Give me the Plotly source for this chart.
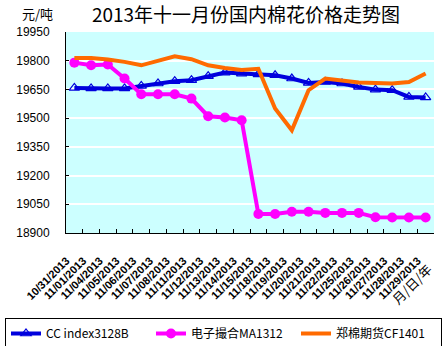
import plotly.graph_objects as go

dates = ["10/31/2013", "11/01/2013", "11/04/2013", "11/05/2013", "11/06/2013",
         "11/07/2013", "11/08/2013", "11/11/2013", "11/12/2013", "11/13/2013",
         "11/14/2013", "11/15/2013", "11/18/2013", "11/19/2013", "11/20/2013",
         "11/21/2013", "11/22/2013", "11/25/2013", "11/26/2013", "11/27/2013",
         "11/28/2013", "11/29/2013"]

cc_index = [19658, 19655, 19655, 19655, 19668, 19681, 19693, 19698, 19719, 19738,
            19733, 19729, 19724, 19707, 19684, 19689, 19681, 19663, 19649, 19646,
            19611, 19608]

ma1312 = [19790, 19776, 19780, 19707, 19625, 19625, 19625, 19602, 19510, 19503,
          19489, 18999, 18999, 19011, 19011, 19005, 19005, 19005, 18982, 18981,
          18981, 18981]

cf1401 = [19814, 19814, 19806, 19794, 19776, 19802, 19823, 19808, 19776, 19762,
          19752, 19758, 19550, 19437, 19646, 19707, 19698, 19686, 19684, 19681,
          19689, 19733]

y_ticks = [18900, 19050, 19200, 19350, 19500, 19650, 19800, 19950]

PL, PR, PT, PB = 66, 434, 32, 233  # plot area in pixels
PW, PH = PR - PL, PB - PT

fig = go.Figure()
# invisible helper trace so the overlay axis (boundary tick marks) is drawn
fig.add_trace(go.Scatter(
    x=dates, y=cc_index, xaxis="x2", yaxis="y", mode="lines", opacity=0,
    showlegend=False, hoverinfo="skip",
))
fig.add_trace(go.Scatter(
    x=dates, y=cc_index, name="CC index3128B", mode="lines+markers",
    line=dict(color="#0000DD", width=4),
    marker=dict(symbol="triangle-up-open", size=9, color="#0000DD",
                line=dict(width=1.2, color="#0000DD")),
))
fig.add_trace(go.Scatter(
    x=dates, y=ma1312, name="电子撮合MA1312", mode="lines+markers",
    line=dict(color="#FF00FF", width=4),
    marker=dict(symbol="circle", size=10, color="#FF00FF"),
))
fig.add_trace(go.Scatter(
    x=dates, y=cf1401, name="郑棉期货CF1401", mode="lines",
    line=dict(color="#FF6A00", width=4),
))

fig.update_layout(
    width=443, height=346,
    margin=dict(l=PL, r=443 - PR, t=PT, b=346 - PB, autoexpand=False),
    paper_bgcolor="white",
    plot_bgcolor="#CCFFFF",
    font=dict(family="Noto Sans CJK SC, Arial, sans-serif", color="black"),
    title=dict(text="2013年十一月份国内棉花价格走势图", x=246 / 443, xanchor="center",
               y=1 - 15 / 346, yanchor="middle",
               font=dict(size=19, family="Noto Sans CJK SC", color="black")),
    showlegend=True,
    legend=dict(orientation="h", xref="paper", yref="paper",
                x=(5 - PL) / PW, y=-(318 - PB) / PH, xanchor="left", yanchor="top",
                bordercolor="black", borderwidth=1, bgcolor="white",
                font=dict(size=12, family="Noto Sans CJK SC", color="black"),
                itemwidth=30, entrywidth=100, entrywidthmode="pixels",
                tracegroupgap=0),
    xaxis=dict(
        type="category", tickangle=-45, showgrid=False,
        showline=True, linecolor="black", linewidth=1,
        ticks="outside", ticklen=16, tickcolor="rgba(0,0,0,0)",
        tickfont=dict(size=11, family="Arial", color="black", weight="bold"),
        ticklabelshift=-8,
        range=[-0.5, len(dates) - 0.5],
    ),
    xaxis2=dict(
        type="category", overlaying="x", side="bottom", matches="x",
        showgrid=False, showline=False, showticklabels=False,
        ticks="inside", ticklen=4, tickcolor="black", tickson="boundaries",
        range=[-0.5, len(dates) - 0.5],
    ),
    yaxis=dict(
        range=[18900, 19950], tickvals=y_ticks, tickformat="d",
        showgrid=True, gridcolor="white", gridwidth=2,
        showline=True, linecolor="black", linewidth=1,
        ticks="inside", ticklen=3, tickcolor="black",
        tickfont=dict(size=12, family="Arial", color="black"),
        ticklabelstandoff=13, zeroline=False,
    ),
)

fig.add_annotation(text="元/吨", xref="paper", yref="paper",
                   x=(20 - PL) / PW, y=(PB - 14) / PH, xanchor="left", yanchor="middle",
                   showarrow=False, font=dict(size=13, family="Noto Sans CJK SC"))
fig.add_annotation(text="月/日/年", xref="paper", yref="paper",
                   x=(411 - PL) / PW, y=-(284 - PB) / PH, textangle=-45,
                   xanchor="center", yanchor="middle",
                   showarrow=False, font=dict(size=13, family="Noto Sans CJK SC"))

fig.write_html("out.html")
